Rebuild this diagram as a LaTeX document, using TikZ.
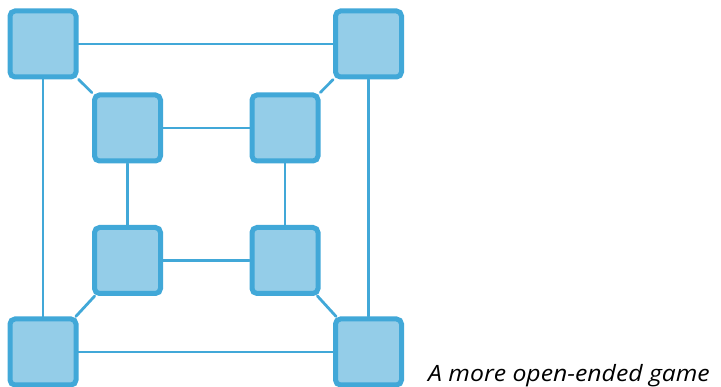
\documentclass[tikz,border=0pt]{standalone}
\usepackage{fontspec}
\newfontfamily\capfont{Open Sans}[FakeStretch=1.1]
\usepackage{tikz}
\usepackage{xcolor}
\definecolor{tileline}{HTML}{41A8D8}
\definecolor{tilefill}{HTML}{94CDE8}

\begin{document}
\begin{tikzpicture}[x=1pt,y=-1pt,line cap=round,
  tile/.style={draw=tileline,fill=tilefill,line width=5pt,rounded corners=5pt,
    minimum size=66pt,inner sep=0pt},
  link/.style={draw=tileline,line width=2.8pt}]
\useasboundingbox (0,0) rectangle (721,387);
% outer ring
\node[tile] (otl) at (43,44) {};
\node[tile] (otr) at (368.5,44) {};
\node[tile] (obl) at (43,352) {};
\node[tile] (obr) at (368.5,352) {};
% inner ring
\node[tile] (itl) at (127.5,128) {};
\node[tile] (itr) at (285,128) {};
\node[tile] (ibl) at (127.5,260.5) {};
\node[tile] (ibr) at (285,260.5) {};
\draw[link] (otl) -- (otr);
\draw[link] (otr) -- (obr);
\draw[link] (obr) -- (obl);
\draw[link] (obl) -- (otl);
\draw[link] (itl) -- (itr);
\draw[link] (itr) -- (ibr);
\draw[link] (ibr) -- (ibl);
\draw[link] (ibl) -- (itl);
\draw[link] (otl) -- (itl);
\draw[link] (otr) -- (itr);
\draw[link] (obl) -- (ibl);
\draw[link] (obr) -- (ibr);
\node[anchor=base west,inner sep=0pt,font=\capfont\itshape\fontsize{22.5}{27}\selectfont]
  (caption) at (428,382) {A more open-ended game};
\end{tikzpicture}
\end{document}
